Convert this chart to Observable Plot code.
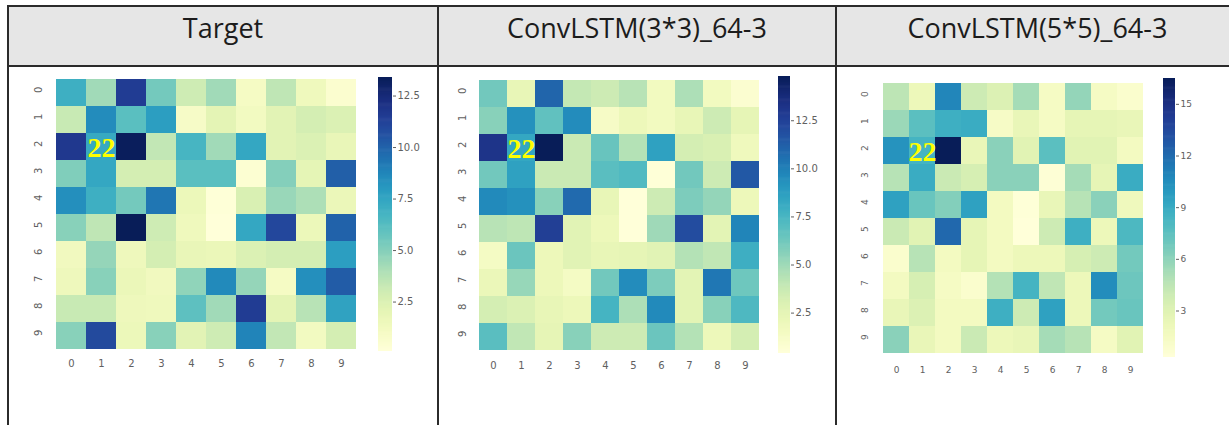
<!DOCTYPE html>
<html><head><meta charset="utf-8">
<script src="https://cdn.jsdelivr.net/npm/d3@7"></script>
<script src="https://cdn.jsdelivr.net/npm/@observablehq/plot@0.6"></script>
<style>
html,body{margin:0;padding:0;background:#fff;width:1229px;height:425px;overflow:hidden;}
#root{position:relative;width:1229px;height:425px;overflow:hidden;}
.hdr{position:absolute;top:7px;height:58px;left:9px;width:1240px;background:#e6e6e6;}
.line{position:absolute;background:#2b2b2b;}
.title{position:absolute;font-family:"Open Sans";font-size:27px;line-height:27px;color:#1c1c1c;text-align:center;top:14px;white-space:nowrap;}
</style></head><body>
<div id="root"></div>
<script>
const titles = ["Target", "ConvLSTM(3*3)_64-3", "ConvLSTM(5*5)_64-3"];
const rowLabels = [0, 1, 2, 3, 4, 5, 6, 7, 8, 9];
const colLabels = [0, 1, 2, 3, 4, 5, 6, 7, 8, 9];
const highlight = [{row: 2, col: 1, label: "22"}];
const ticksTarget = [2.5, 5, 7.5, 10, 12.5];
const ticksConv3 = [2.5, 5, 7.5, 10, 12.5];
const ticksConv5 = [3, 6, 9, 12, 15];

const target = [
  [7.0, 4.3, 11.5, 5.4, 3.0, 4.3, 1.0, 3.5, 1.4, 0.5],
  [3.2, 8.5, 6.1, 7.8, 0.9, 2.1, 1.2, 2.2, 2.8, 2.5],
  [11.7, 7.3, 13.3, 3.4, 6.7, 4.3, 7.4, 2.2, 2.5, 1.8],
  [5.1, 7.4, 2.8, 2.8, 6.1, 6.1, 0.4, 5.0, 2.0, 10.1],
  [8.4, 7.0, 5.4, 9.3, 1.6, 0.2, 2.6, 4.5, 4.0, 1.7],
  [4.9, 3.5, 13.4, 3.0, 1.4, 0.1, 7.4, 11.0, 1.6, 10.0],
  [1.3, 4.6, 1.5, 2.8, 1.8, 1.7, 2.5, 2.8, 2.8, 7.8],
  [1.5, 4.9, 1.7, 1.3, 4.7, 8.6, 4.6, 1.0, 8.4, 10.2],
  [3.2, 3.2, 1.5, 1.4, 6.0, 4.3, 11.5, 2.1, 3.7, 7.6],
  [4.9, 10.9, 1.6, 4.9, 2.2, 3.0, 8.8, 3.4, 1.2, 2.8]
];
const conv3 = [
  [6.2, 2.3, 11.0, 3.9, 3.6, 4.3, 1.6, 4.6, 1.6, 0.8],
  [5.6, 9.3, 6.7, 9.5, 1.3, 2.0, 1.6, 2.3, 3.6, 2.4],
  [13.2, 8.3, 14.8, 3.7, 6.5, 4.4, 8.6, 3.3, 3.1, 1.8],
  [6.2, 8.6, 3.7, 3.7, 6.9, 7.2, 0.5, 6.2, 3.6, 11.5],
  [9.6, 9.3, 5.6, 10.8, 2.3, 0.4, 3.6, 5.9, 5.3, 2.0],
  [4.3, 4.1, 12.6, 2.7, 2.0, 0.4, 5.0, 12.0, 2.6, 9.8],
  [1.4, 6.4, 2.0, 2.7, 2.3, 2.4, 2.7, 4.4, 4.0, 7.9],
  [2.1, 5.2, 2.0, 1.4, 6.2, 9.5, 5.9, 2.6, 10.3, 6.3],
  [3.3, 3.0, 2.3, 2.0, 7.6, 4.6, 9.6, 2.6, 5.6, 7.3],
  [6.9, 4.0, 2.4, 5.6, 3.6, 3.6, 6.4, 4.4, 2.0, 3.3]
];
const conv5 = [
  [4.5, 2.1, 10.8, 3.9, 3.2, 5.3, 1.4, 5.8, 1.4, 0.9],
  [5.6, 7.6, 8.7, 8.9, 1.3, 2.4, 1.4, 2.6, 2.6, 2.4],
  [10.2, 8.4, 16.5, 2.4, 6.1, 2.9, 7.6, 2.9, 2.9, 1.6],
  [4.7, 8.9, 4.0, 3.5, 6.1, 6.1, 0.5, 5.3, 2.6, 8.9],
  [9.5, 7.1, 6.3, 9.5, 1.6, 0.4, 2.4, 4.7, 6.1, 1.9],
  [4.0, 2.9, 12.1, 2.6, 1.6, 0.3, 3.9, 8.7, 2.1, 8.1],
  [0.9, 4.7, 1.6, 2.6, 1.6, 2.1, 2.1, 3.5, 3.9, 6.8],
  [1.6, 3.5, 1.4, 0.9, 4.8, 8.4, 4.4, 2.1, 10.5, 7.0],
  [2.4, 3.2, 1.6, 1.6, 8.7, 3.9, 9.5, 2.1, 6.8, 7.1],
  [6.1, 2.4, 1.6, 4.0, 2.1, 2.4, 5.3, 4.7, 1.4, 2.9]
];

const root = document.getElementById("root");
function add(cls, css, txt) {
  const d = document.createElement("div");
  d.className = cls;
  Object.assign(d.style, css);
  if (txt !== undefined) d.textContent = txt;
  root.appendChild(d);
  return d;
}
add("hdr", {});
add("line", {left: "7px", top: "5px", width: "1240px", height: "2px"});
add("line", {left: "7px", top: "65px", width: "1240px", height: "2px"});
add("line", {left: "7px", top: "5px", width: "2px", height: "430px"});
add("line", {left: "437px", top: "5px", width: "2px", height: "430px"});
add("line", {left: "835px", top: "5px", width: "2px", height: "430px"});
const colBounds = [[9, 437], [439, 835], [837, 1238]];
titles.forEach((t, i) => {
  add("title", {left: colBounds[i][0] + "px", width: (colBounds[i][1] - colBounds[i][0]) + "px"}, t);
});

const panels = [
  {data: target, ticks: ticksTarget, fmt: ".1f", fs: 10, x0: 53, x1: 359, y0: 77, y1: 351, cb0: 378, cb1: 392, left: 9},
  {data: conv3, ticks: ticksConv3, fmt: ".1f", fs: 10, x0: 477, x1: 760, y0: 76, y1: 353, cb0: 778, cb1: 790, left: 439},
  {data: conv5, ticks: ticksConv5, fmt: "d", fs: 9, x0: 880, x1: 1146, y0: 78, y1: 357, cb0: 1163, cb1: 1175, left: 837}
];

const panelTop = 67;
panels.forEach(p => {
  const cells = p.data.flatMap((r, i) => r.map((v, j) => ({row: rowLabels[i], col: colLabels[j], v})));
  const ext = d3.extent(cells, d => d.v);
  const color = {type: "linear", scheme: "ylgnbu", domain: ext};
  const ml = p.x0 - p.left, mt = p.y0 - panelTop, mb = 30;
  const W = p.x1 - p.left + 2, H = p.y1 - panelTop + mb;
  const hm = Plot.plot({
    width: W, height: H, marginLeft: ml, marginRight: 2, marginTop: mt, marginBottom: mb,
    style: {fontFamily: "DejaVu Sans", fontSize: p.fs + "px", color: "#555", background: "transparent", overflow: "visible"},
    x: {type: "band", domain: colLabels, padding: 0, axis: null},
    y: {type: "band", domain: rowLabels, padding: 0, axis: null},
    color,
    marks: [
      Plot.cell(cells, {x: "col", y: "row", fill: "v", inset: 0}),
      Plot.text(colLabels, {x: d => d, text: d => String(d), frameAnchor: "bottom", dy: 15, fill: "#606060", fontSize: p.fs}),
      Plot.text(rowLabels, {y: d => d, text: d => String(d), frameAnchor: "left", dx: -15, rotate: -90, fill: "#606060", fontSize: p.fs}),
      Plot.text(highlight, {x: "col", y: "row", text: "label", fill: "#ffff00", fontSize: 28, fontWeight: "bold", fontFamily: "Liberation Serif", dy: 1})
    ]
  });
  hm.style.position = "absolute";
  hm.style.left = p.left + "px";
  hm.style.top = panelTop + "px";
  root.appendChild(hm);

  const N = 256;
  const steps = d3.range(N).map(i => ({a: ext[0] + (ext[1] - ext[0]) * i / N, b: ext[0] + (ext[1] - ext[0]) * (i + 1) / N}));
  const cb = Plot.plot({
    width: 8 + (p.cb1 - p.cb0) + 40, height: H, marginLeft: 8, marginRight: 40, marginTop: mt, marginBottom: mb,
    style: {fontFamily: "DejaVu Sans", fontSize: p.fs + "px", color: "#606060", background: "transparent"},
    x: {domain: [0, 1], axis: null},
    y: {domain: ext},
    color,
    marks: [
      Plot.rect(steps, {x1: 0, x2: 1, y1: "a", y2: d => Math.min(ext[1], d.b + (ext[1] - ext[0]) / N * 0.6), fill: d => (d.a + d.b) / 2}),
      Plot.axisY(p.ticks, {anchor: "right", tickSize: 3, tickPadding: 2, tickFormat: d3.format(p.fmt), label: null, fontSize: p.fs})
    ]
  });
  cb.style.position = "absolute";
  cb.style.left = (p.cb0 - 8) + "px";
  cb.style.top = panelTop + "px";
  root.appendChild(cb);
});
</script>
</body></html>
